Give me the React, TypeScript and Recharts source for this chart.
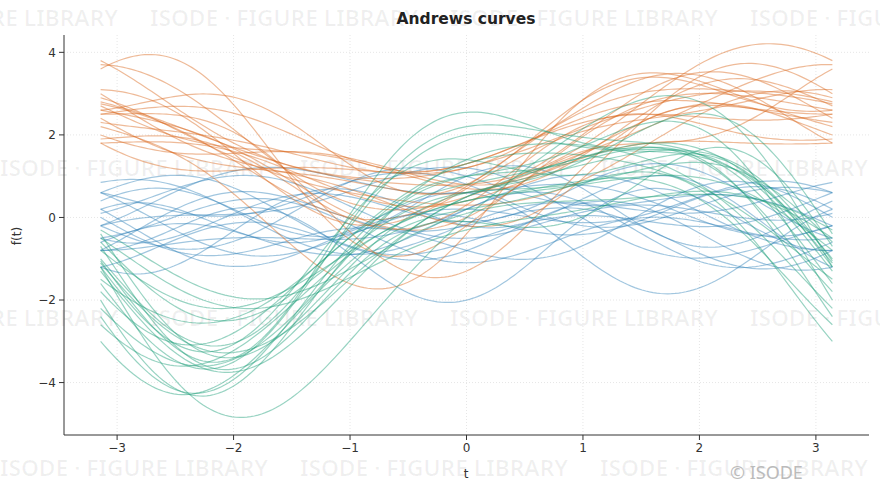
import React from 'react'
import { LineChart, Line, XAxis, YAxis, CartesianGrid } from 'recharts'

// observations as [x1, x2, x3, x4, x5], one row per curve
const blueObs = [
  [0.14, 0.3, -0.5, 0.4, 0.25],
  [-0.28, -0.4, 0.3, 0.5, -0.3],
  [0.42, 0.2, 0.6, -0.5, 0.1],
  [0.0, 0.5, -0.2, -0.3, 0.4],
  [-0.57, 0.1, 0.4, 0.6, 0.2],
  [0.28, -0.3, -0.3, 0.2, -0.4],
  [-0.14, 0.6, 0.5, 0.3, -0.2],
  [0.57, -0.2, 0.1, -0.4, 0.3],
  [-0.42, 0.4, -0.4, -0.6, -0.1],
  [0.14, -0.5, 0.7, 0.1, 0.4],
  [-0.71, 0.2, 0.2, 0.4, -0.5],
  [0.0, -0.1, -0.6, 0.5, 0.0],
  [0.42, 0.4, 0.2, -0.2, -0.6],
  [-0.71, 0.3, -0.6, 0.2, -0.9],
  [0.28, 0.0, 0.3, 0.6, 0.5],
  [-0.28, 0.5, -0.1, -0.5, 0.3],
  [0.71, -0.4, 0.4, 0.3, -0.3],
  [-0.42, -0.2, -0.3, 0.1, -0.5],
  [0.0, 0.3, 0.5, -0.4, -0.7],
  [-0.57, -0.6, 0.2, 0.2, 0.8],
]

const orangeObs = [
  [2.26, 0.3, -1.9, 0.9, 0.1],
  [3.11, 0.8, -1.5, -0.3, 0.1],
  [2.69, 0.5, -1.6, 0.2, 0.2],
  [2.4, 0.9, -1.2, 0.4, 0.2],
  [2.12, 0.4, -1.3, -0.2, 0.1],
  [2.83, 0.7, -0.8, 0.0, 0.0],
  [2.55, 1.2, -1.0, 0.3, -0.05],
  [2.69, 0.5, -1.0, -0.4, -0.2],
  [2.26, 0.9, -1.3, 0.2, -0.3],
  [1.7, 0.6, -1.9, 0.3, -0.6],
  [2.97, 0.2, -0.6, 0.3, -0.2],
  [2.55, 1.0, -0.9, -0.3, -0.3],
  [2.83, 0.6, -0.5, 0.1, -0.2],
  [1.7, 2.0, -1.3, 0.6, -0.3],
  [2.4, 0.4, -0.6, -0.3, -0.3],
  [1.98, 0.8, -0.8, 0.5, -0.3],
  [1.84, 0.3, -0.7, 0.2, -0.2],
  [2.69, 1.1, -0.3, -0.2, -0.4],
  [3.25, 0.5, -0.9, 0.4, -0.6],
  [2.26, 0.7, -1.6, -0.5, -0.2],
]

const greenObs = [
  [-1.56, 1.9, 1.6, -0.7, -0.3],
  [-1.27, 1.6, 1.5, -0.5, -0.2],
  [-0.85, 2.2, 1.7, -0.9, -0.1],
  [-0.71, 2.0, 1.8, -0.4, 0.1],
  [-0.57, 2.6, 1.5, -1.0, -0.1],
  [-0.42, 1.8, 1.3, -0.6, -0.2],
  [0.0, 2.1, 1.9, -0.8, 0.3],
  [-0.28, 1.5, 1.4, -0.3, 0.1],
  [-0.99, 3.7, 0.6, -0.6, 0.1],
  [-0.85, 2.4, 0.9, -0.6, 0.2],
  [-0.14, 1.7, 1.3, -1.0, 0.2],
  [-0.57, 2.3, 0.8, -0.5, 0.1],
  [0.14, 1.9, 1.5, -0.7, 0.4],
  [0.28, 2.0, 1.8, -0.9, 0.55],
  [-0.42, 1.4, 0.6, -0.4, 0.1],
  [-0.99, 2.0, 0.3, -1.1, 0.3],
  [-0.28, 1.6, 0.6, -0.6, 0.2],
  [-0.85, 1.3, 0.1, -0.3, 0.2],
  [-0.14, 2.5, 0.5, -0.9, 0.2],
  [-0.57, 1.2, 0.2, -0.2, 0.3],
]

const xTicks = [-3, -2, -1, 0, 1, 2, 3]
const yTicks = [-4, -2, 0, 2, 4]

const BLUE = '#2f80b8'
const ORANGE = '#d9671a'
const GREEN = '#1b9e77'

const groups = [
  { key: 'b', obs: blueObs, color: BLUE },
  { key: 'o', obs: orangeObs, color: ORANGE },
  { key: 'g', obs: greenObs, color: GREEN },
]

// Andrews curve: x1/sqrt2 + x2 sin t + x3 cos t + x4 sin 2t + x5 cos 2t
const andrews = (x: number[], t: number) =>
  x[0] / Math.SQRT2 + x[1] * Math.sin(t) + x[2] * Math.cos(t) + x[3] * Math.sin(2 * t) + x[4] * Math.cos(2 * t)

const N = 200
const rows = Array.from({ length: N + 1 }, (_, i) => {
  const t = -Math.PI + (2 * Math.PI * i) / N
  const row: Record<string, number> = { t }
  groups.forEach((g) => g.obs.forEach((x, j) => (row[`${g.key}${j}`] = andrews(x, t))))
  return row
})

const fmt = (v: number) => (v < 0 ? `\u2212${Math.abs(v)}` : `${v}`)
const tickStyle = { fill: '#333', fontSize: 12, fontFamily: 'DejaVu Sans' }

const WM = 'ISODE \u00b7 FIGURE LIBRARY'
const wmRows = [
  { y: 26, xs: [-150, 150, 450, 750] },
  { y: 176, xs: [0, 300, 600] },
  { y: 326, xs: [-150, 150, 450, 750] },
  { y: 476, xs: [0, 300, 600] },
]

export default function App() {
  return (
    <div style={{ position: 'absolute', left: 0, top: 0, width: 880, height: 493, background: '#fff' }}>
      <svg width={880} height={493} style={{ position: 'absolute', left: 0, top: 0 }}>
        {wmRows.map((r) =>
          r.xs.map((x) => (
            <text key={`${r.y}-${x}`} x={x} y={r.y} fontSize={22} fontWeight={600} fontFamily="Noto Sans"
              fill="#000" fillOpacity={0.06} textLength={268} lengthAdjust="spacingAndGlyphs">
              {WM}
            </text>
          ))
        )}
      </svg>
      <div style={{ position: 'absolute', left: 0, top: 0 }}>
        <LineChart width={880} height={493} data={rows} margin={{ top: 35, right: 11, bottom: 28, left: 0 }}>
          <CartesianGrid stroke="#e6e6e6" strokeDasharray="1 2" horizontalValues={yTicks} verticalValues={xTicks} />
          <XAxis dataKey="t" type="number" domain={[-3.456, 3.456]} ticks={xTicks} tickFormatter={fmt}
            allowDataOverflow height={30} tick={tickStyle} tickSize={5} tickMargin={3}
            axisLine={{ stroke: '#333' }} tickLine={{ stroke: '#333' }} />
          <YAxis type="number" domain={[-5.27, 4.42]} ticks={yTicks} tickFormatter={fmt}
            allowDataOverflow width={64} tick={tickStyle} tickSize={5} tickMargin={3}
            axisLine={{ stroke: '#333' }} tickLine={{ stroke: '#333' }} />
          {groups.map((g) =>
            g.obs.map((_, j) => (
              <Line key={`${g.key}${j}`} dataKey={`${g.key}${j}`} type="linear" stroke={g.color}
                strokeWidth={1.2} strokeOpacity={0.45} dot={false} activeDot={false} isAnimationActive={false} />
            ))
          )}
        </LineChart>
      </div>
      <svg width={880} height={493} style={{ position: 'absolute', left: 0, top: 0, pointerEvents: 'none' }}>
        <text x={466} y={24} textAnchor="middle" fontSize={15.5} fontWeight="bold" fontFamily="DejaVu Sans" fill="#222">
          Andrews curves
        </text>
        <text x={466} y={478} textAnchor="middle" fontSize={12} fontFamily="DejaVu Sans" fill="#333">t</text>
        <text x={21} y={236} textAnchor="middle" fontSize={12} fontFamily="DejaVu Sans" fill="#333"
          transform="rotate(-90 21 236)">f(t)</text>
        <text x={730} y={479} fontSize={18} fontFamily="Noto Sans" fill="#bbbbbb">© ISODE</text>
      </svg>
    </div>
  )
}
